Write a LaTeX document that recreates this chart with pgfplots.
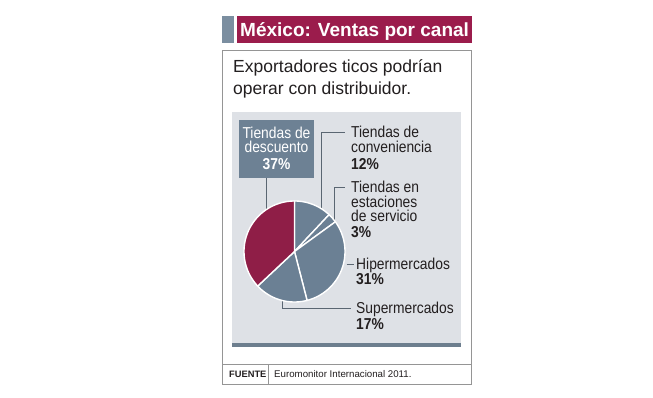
\documentclass[border=0pt]{standalone}
\usepackage{fontspec}
\setmainfont{Liberation Sans}
\newfontfamily\labf[FakeStretch=0.875]{Liberation Sans}
\usepackage{pgfplots}
\pgfplotsset{compat=1.18}
\usepackage{pgfplotstable}
\definecolor{maroon}{HTML}{9B1C4C}
\definecolor{piemaroon}{HTML}{8F1E47}
\definecolor{slate}{HTML}{6B8094}
\definecolor{slatebox}{HTML}{6D8194}
\definecolor{panel}{HTML}{DEE1E6}
\definecolor{sq}{HTML}{7B8EA0}
\definecolor{strip}{HTML}{6D7E8E}
\definecolor{frame}{HTML}{959595}
\definecolor{ink}{HTML}{231F20}
\definecolor{lead}{HTML}{5A6672}

\pgfplotstableread{
name pct
conv 12
est 3
hiper 31
super 17
desc 37
}\piedata

\begin{document}
\begin{tikzpicture}[x=1pt,y=1pt,
  lab/.style={anchor=base west, inner sep=0pt, text=ink, font=\labf\fontsize{15.8}{15.8}\selectfont},
  pct/.style={anchor=base west, inner sep=0pt, text=ink, font=\labf\bfseries\fontsize{15.8}{15.8}\selectfont},
  leader/.style={draw=lead, line width=0.9pt}]
\fill[white] (0,0) rectangle (653,398);
% title
\fill[sq] (222,355) rectangle (234,382);
\fill[maroon] (237,355) rectangle (472,382);
\node[anchor=base west, inner sep=0pt, text=white, font=\bfseries\fontsize{19}{19}\selectfont] at (240,361.3) {México: Ventas por canal};
% outer frame
\draw[frame, line width=0.9pt] (222.5,14) rectangle (471.5,347.5);
\draw[frame, line width=0.9pt] (222.5,33.5) -- (471.5,33.5);
\draw[frame, line width=0.9pt] (268,14) -- (268,33.5);
\node[anchor=base west, inner sep=0pt, text=ink, font=\bfseries\fontsize{9.3}{9.3}\selectfont] at (229,20.3) {FUENTE};
\node[anchor=base west, inner sep=0pt, text=ink, font=\fontsize{9.7}{9.7}\selectfont] at (274,20.3) {Euromonitor Internacional 2011.};
% subtitle
\node[anchor=base west, inner sep=0pt, text=ink, font=\fontsize{17.5}{17.5}\selectfont] at (233,325.5) {Exportadores ticos podrían};
\node[anchor=base west, inner sep=0pt, text=ink, font=\fontsize{17.5}{17.5}\selectfont] at (233,303) {operar con distribuidor.};
% panel
\fill[panel] (232,55) rectangle (461,286);
\fill[strip] (232,51) rectangle (461,55);
% discount box
\fill[slatebox] (239,220) rectangle (314,278);
\node[anchor=base, inner sep=0pt, text=white, font=\labf\fontsize{15.8}{15.8}\selectfont] at (276.5,259.7) {Tiendas de};
\node[anchor=base, inner sep=0pt, text=white, font=\labf\fontsize{15.8}{15.8}\selectfont] at (276.5,245.2) {descuento};
\node[anchor=base, inner sep=0pt, text=white, font=\labf\bfseries\fontsize{15.8}{15.8}\selectfont] at (276.5,228) {37\%};
% leaders
\draw[leader] (266,220) -- (266,188);
\draw[leader] (321.5,189.5) -- (321.5,265.5) -- (345,265.5);
\draw[leader] (334.5,178) -- (334.5,210.5) -- (345,210.5);
\draw[leader] (346.5,134) -- (354,134);
\draw[leader] (282,97.5) -- (282,90) -- (351,90);
% labels
\node[lab] at (351,260) {Tiendas de};
\node[lab] at (351,245.5) {conveniencia};
\node[pct] at (351,228) {12\%};
\node[lab] at (351,205) {Tiendas en};
\node[lab] at (351,190.5) {estaciones};
\node[lab] at (351,176) {de servicio};
\node[pct] at (351,160.5) {3\%};
\node[lab] at (356,128) {Hipermercados};
\node[pct] at (356,113) {31\%};
\node[lab] at (356,84.7) {Supermercados};
\node[pct] at (356,68.7) {17\%};
% pie angles from data
\pgfplotstablegetelem{0}{pct}\of\piedata \let\pA\pgfplotsretval
\pgfplotstablegetelem{1}{pct}\of\piedata \let\pB\pgfplotsretval
\pgfplotstablegetelem{2}{pct}\of\piedata \let\pC\pgfplotsretval
\pgfplotstablegetelem{3}{pct}\of\piedata \let\pD\pgfplotsretval
\pgfplotstablegetelem{4}{pct}\of\piedata \let\pE\pgfplotsretval
\pgfmathsetmacro{\aA}{90}
\pgfmathsetmacro{\aB}{\aA-3.6*\pA}
\pgfmathsetmacro{\aC}{\aB-3.6*\pB}
\pgfmathsetmacro{\aD}{\aC-3.6*\pC}
\pgfmathsetmacro{\aE}{\aD-3.6*\pD}
\pgfmathsetmacro{\aF}{\aE-3.6*\pE}
\begin{axis}[at={(294.5pt,146.5pt)}, anchor=origin, x=50.5pt, y=50.5pt,
  xmin=-1.2, xmax=1.2, ymin=-1.2, ymax=1.2, hide axis, clip=false]
\addplot[fill=slate, draw=white, line width=1.4pt, line join=round, domain=\aB:\aA, samples=40, variable=\t] ({cos(\t)},{sin(\t)}) -- (axis cs:0,0) -- cycle;
\addplot[fill=slate, draw=white, line width=1.4pt, line join=round, domain=\aC:\aB, samples=10, variable=\t] ({cos(\t)},{sin(\t)}) -- (axis cs:0,0) -- cycle;
\addplot[fill=slate, draw=white, line width=1.4pt, line join=round, domain=\aD:\aC, samples=60, variable=\t] ({cos(\t)},{sin(\t)}) -- (axis cs:0,0) -- cycle;
\addplot[fill=slate, draw=white, line width=1.4pt, line join=round, domain=\aE:\aD, samples=40, variable=\t] ({cos(\t)},{sin(\t)}) -- (axis cs:0,0) -- cycle;
\addplot[fill=piemaroon, draw=white, line width=1.4pt, line join=round, domain=\aF:\aE, samples=60, variable=\t] ({cos(\t)},{sin(\t)}) -- (axis cs:0,0) -- cycle;
\end{axis}
\end{tikzpicture}
\end{document}
